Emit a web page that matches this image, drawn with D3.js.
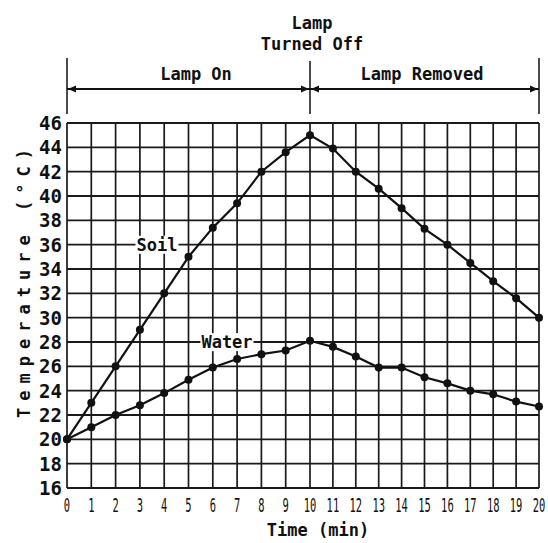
<!DOCTYPE html>
<meta charset="utf-8">
<script src="https://d3js.org/d3.v7.min.js"></script>
<style>
  body { margin: 0; background: #fff; }
  text { font-family: "DejaVu Sans Mono", monospace; fill: #111; }
</style>
<div id="chart"></div>
<script>

// data
var times = d3.range(0, 21);
var soil  = [20, 23, 26, 29, 32, 35, 37.4, 39.4, 42, 43.6, 45, 43.9, 42, 40.6, 39, 37.3, 36, 34.5, 33, 31.6, 30];
var water = [20, 21, 22, 22.8, 23.8, 24.9, 25.9, 26.6, 27, 27.3, 28.1, 27.6, 26.8, 25.9, 25.9, 25.1, 24.6, 24, 23.7, 23.1, 22.7];
var yTicks = d3.range(16, 47, 2);
var phases = ["Lamp On", "Lamp Removed"];

var svg = d3.select("#chart")
  .append("svg")
  .attr("width", 548)
  .attr("height", 543);

// the scan is a bit stretched on the left half, so x is piecewise
var x = d3.scaleLinear().domain([0, 10, 20]).range([67, 310, 539]);
var y = d3.scaleLinear().domain([16, 46]).range([488, 123]);

// grid
svg.selectAll(".vgrid")
  .data(times)
  .enter()
  .append("line")
  .attr("x1", function(d) { return x(d); })
  .attr("x2", function(d) { return x(d); })
  .attr("y1", y(16))
  .attr("y2", y(46))
  .style("stroke", "#1a1a1a")
  .style("stroke-width", 1.7);

svg.selectAll(".hgrid")
  .data(yTicks)
  .enter()
  .append("line")
  .attr("x1", x(0))
  .attr("x2", x(20))
  .attr("y1", function(d) { return y(d); })
  .attr("y2", function(d) { return y(d); })
  .style("stroke", "#1a1a1a")
  .style("stroke-width", 1.9);

// y tick labels
svg.selectAll(".ylab")
  .data(yTicks)
  .enter()
  .append("text")
  .attr("x", 62)
  .attr("y", function(d) { return y(d); })
  .attr("dy", "0.36em")
  .attr("text-anchor", "end")
  .style("font-size", "19px")
  .style("font-weight", "bold")
  .text(function(d) { return d; });

// x tick labels, squeezed like the original
svg.selectAll(".xlab")
  .data(times)
  .enter()
  .append("text")
  .attr("transform", function(d) { return "translate(" + x(d) + ",512) scale(0.55,1)"; })
  .attr("text-anchor", "middle")
  .style("font-size", "19px")
  .text(function(d) { return d; });

svg.append("text")
  .attr("x", 318)
  .attr("y", 536)
  .attr("text-anchor", "middle")
  .style("font-size", "17px")
  .style("font-weight", "bold")
  .text("Time (min)");

svg.append("text")
  .attr("transform", "translate(30,280) rotate(-90)")
  .attr("text-anchor", "middle")
  .style("font-size", "17px")
  .style("font-weight", "bold")
  .style("letter-spacing", "7px")
  .text("Temperature (°C)");

// lines + dots
var line = d3.line()
  .x(function(d, i) { return x(times[i]); })
  .y(function(d) { return y(d); });

[soil, water].forEach(function(s) {
  svg.append("path")
    .datum(s)
    .attr("d", line)
    .style("fill", "none")
    .style("stroke", "#111")
    .style("stroke-width", 2.2);

  svg.selectAll(null)
    .data(s)
    .enter()
    .append("circle")
    .attr("cx", function(d, i) { return x(times[i]); })
    .attr("cy", function(d) { return y(d); })
    .attr("r", 4)
    .style("fill", "#111");
});

// series labels with white boxes over the grid
function seriesLabel(txt, cx, val) {
  var g = svg.append("g").attr("transform", "translate(" + cx + "," + y(val) + ")");
  var t = g.append("text")
    .attr("text-anchor", "middle")
    .attr("dy", "0.36em")
    .style("font-size", "17px")
    .style("font-weight", "bold")
    .text(txt);
  var b = t.node().getBBox();
  g.insert("rect", "text")
    .attr("x", b.x - 1)
    .attr("y", b.y + 1)
    .attr("width", b.width + 2)
    .attr("height", b.height - 2)
    .style("fill", "#fff");
}
seriesLabel("Soil", 157, 36);
seriesLabel("Water", 227, 28);

// top annotation
var marks = [0, 10, 20];
svg.selectAll(".vmark")
  .data(marks)
  .enter()
  .append("line")
  .attr("x1", function(d) { return x(d); })
  .attr("x2", function(d) { return x(d); })
  .attr("y1", function(d) { return d == 10 ? 61 : 58; })
  .attr("y2", 114)
  .style("stroke", "#111")
  .style("stroke-width", 1.5);

svg.append("line")
  .attr("x1", x(0))
  .attr("x2", x(20))
  .attr("y1", 89)
  .attr("y2", 89)
  .style("stroke", "#111")
  .style("stroke-width", 2);

function arrow(px, dir) {
  svg.append("path")
    .attr("d", "M" + px + ",89 l" + (-8 * dir) + ",-3.5 l0,7 z")
    .style("fill", "#111");
}
arrow(x(0) + 1, -1);
arrow(x(10) - 1, 1);
arrow(x(10) + 1, -1);
arrow(x(20) - 1, 1);

svg.selectAll(".phase")
  .data(phases)
  .enter()
  .append("text")
  .attr("x", function(d, i) { return i == 0 ? 196 : 422; })
  .attr("y", 80)
  .attr("text-anchor", "middle")
  .style("font-size", "17px")
  .style("font-weight", "bold")
  .text(function(d) { return d; });

svg.append("text")
  .attr("x", 312)
  .attr("y", 29)
  .attr("text-anchor", "middle")
  .style("font-size", "17px")
  .style("font-weight", "bold")
  .text("Lamp");
svg.append("text")
  .attr("x", 312)
  .attr("y", 50)
  .attr("text-anchor", "middle")
  .style("font-size", "17px")
  .style("font-weight", "bold")
  .text("Turned Off");

</script>
